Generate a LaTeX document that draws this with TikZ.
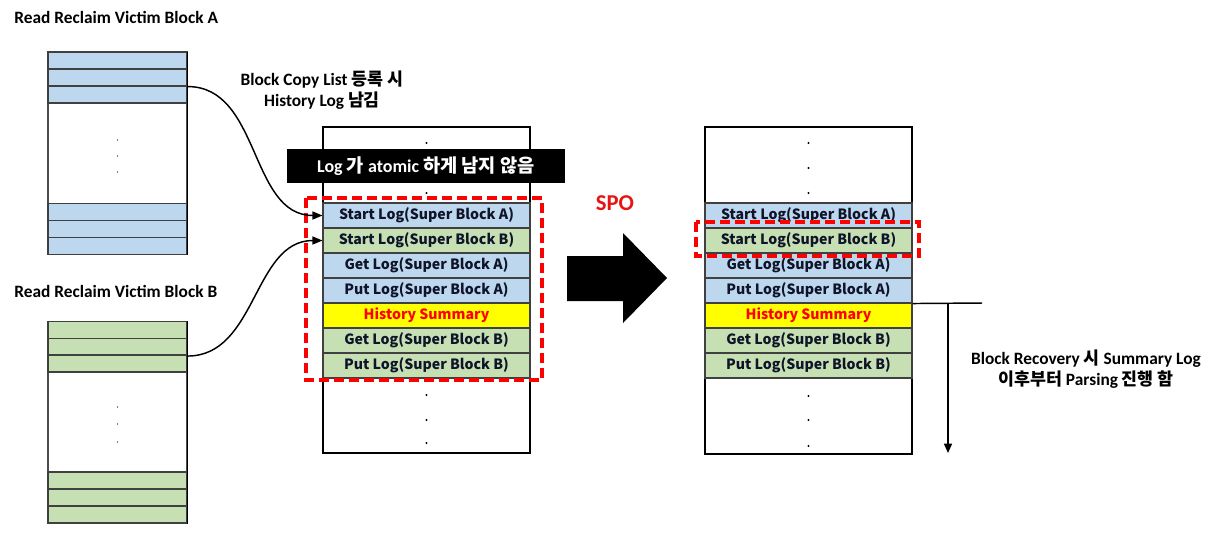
\documentclass[tikz,border=0pt]{standalone}
\usepackage{fontspec}
\setmainfont{Carlito}
\newfontfamily\kr{Noto Sans CJK KR}
\usetikzlibrary{arrows.meta}
\definecolor{cblue}{RGB}{189,215,238}
\definecolor{cgreen}{RGB}{198,224,180}
\definecolor{cyel}{RGB}{255,255,0}
\definecolor{cred}{RGB}{255,0,0}
\definecolor{sred}{RGB}{230,20,20}
\definecolor{ctext}{RGB}{15,20,40}
\begin{document}
\begin{tikzpicture}[x=0.75pt,y=-0.75pt,
  cell/.style={draw=black!75, line width=0.8pt, minimum width=155.25pt, minimum height=18.75pt,
    inner sep=0pt, font=\kr\bfseries\fontsize{10.6}{12}\selectfont, text=ctext},
  colbox/.style={draw=black, line width=1.2pt, minimum width=155.25pt, inner sep=0pt},
  brow/.style={draw=black!75, line width=0.8pt, minimum width=104.25pt, minimum height=12.75pt, inner sep=0pt},
  bbox/.style={draw=black!70, line width=1pt, minimum width=104.25pt, inner sep=0pt},
  lbl/.style={font=\bfseries\fontsize{13}{15.75}\selectfont, align=center, inner sep=0pt},
  conn/.style={line width=1.1pt, -{Triangle[length=7.5pt,width=6pt]}},
  reddash/.style={draw=cred, line width=3pt, dash pattern=on 7.5pt off 3.75pt}
]
\useasboundingbox (0,0) rectangle (1220,537);

% ---------- labels left ----------
\node[lbl, anchor=west] (tA) at (14,17) {Read Reclaim Victim Block A};
\node[lbl, anchor=west] (tB) at (14,291) {Read Reclaim Victim Block B};

% ---------- Block A ----------
\node[bbox, minimum height=151.5pt] (A) at (117.5,153.25) {};
\node[brow, fill=cblue] (a1) at (117.5,60.5) {};
\node[brow, fill=cblue] (a2) at (117.5,77.5) {};
\node[brow, fill=cblue] (a3) at (117.5,94.5) {};
\node[brow, fill=cblue] (a4) at (117.5,212) {};
\node[brow, fill=cblue] (a5) at (117.5,229) {};
\node[brow, fill=cblue] (a6) at (117.5,246) {};
\draw[line width=1.2pt] (A.north east) -- (A.south east);
\fill (117.5,140) circle (0.6);
\fill (117.5,156) circle (0.6);
\fill (117.5,172) circle (0.6);

% ---------- Block B ----------
\node[bbox, minimum height=151.1pt] (B) at (117.5,422.25) {};
\node[brow, fill=cgreen] (b1) at (117.5,330) {};
\node[brow, fill=cgreen] (b2) at (117.5,347) {};
\node[brow, fill=cgreen] (b3) at (117.5,363.5) {};
\node[brow, fill=cgreen] (b4) at (117.5,480.5) {};
\node[brow, fill=cgreen] (b5) at (117.5,497.5) {};
\node[brow, fill=cgreen] (b6) at (117.5,514.5) {};
\draw[line width=1.2pt] (B.north east) -- (B.south east);
\fill (117.5,407) circle (0.6);
\fill (117.5,424) circle (0.6);
\fill (117.5,442) circle (0.6);

% ---------- middle column ----------
\node[colbox, minimum height=244.5pt] (M) at (426.5,290) {};
\node[cell, fill=cblue]  (mA1) at (426.5,215.5) {Start Log(Super Block A)};
\node[cell, fill=cgreen] (mB1) at (426.5,240.5) {Start Log(Super Block B)};
\node[cell, fill=cblue]  (mA2) at (426.5,265.5) {Get Log(Super Block A)};
\node[cell, fill=cblue]  (mA3) at (426.5,290.5) {Put Log(Super Block A)};
\node[cell, fill=cyel, text=cred] (mH) at (426.5,315.5) {History Summary};
\node[cell, fill=cgreen] (mB2) at (426.5,340.5) {Get Log(Super Block B)};
\node[cell, fill=cgreen] (mB3) at (426.5,365.5) {Put Log(Super Block B)};
\fill (426.5,143) circle (1.1);
\fill (426.5,193) circle (1.1);
\fill (426.5,395) circle (1.1);
\fill (426.5,420) circle (1.1);
\fill (426.5,443) circle (1.1);

% black band
\node[fill=black, text=white, minimum width=208.5pt, minimum height=25.5pt, inner sep=0pt,
  font=\bfseries\fontsize{13.5}{15}\selectfont] (band) at (426,166)
  {Log {\kr\fontsize{14}{15}\selectfont 가} atomic {\kr\fontsize{14}{15}\selectfont 하게 남지 않음}};

% red dashed box middle
\draw[reddash] (306,198) rectangle (542,380);

% label
\node[lbl] (tCopy) at (322,90) {Block Copy List {\kr 등록 시}\\History Log {\kr 남김}};

% arrows from blocks
\draw[conn] (a2.south east) to[out=0,in=180] (mA1.west);
\draw[conn] (b2.south east) to[out=0,in=180] (mB1.west);

% ---------- SPO ----------
\node[font=\bfseries\fontsize{17}{20}\selectfont, text=sred, inner sep=0pt] (spo) at (615,203) {SPO};
\fill (567,256) -- (623,256) -- (623,233) -- (667,278) -- (623,323) -- (623,301) -- (567,301) -- cycle;

% ---------- right column ----------
\node[colbox, minimum height=245.25pt] (R) at (808.5,290.5) {};
\node[cell, fill=cblue]  (rA1) at (808.5,215.5) {Start Log(Super Block A)};
\node[cell, fill=cgreen] (rB1) at (808.5,240.5) {Start Log(Super Block B)};
\node[cell, fill=cblue]  (rA2) at (808.5,265.5) {Get Log(Super Block A)};
\node[cell, fill=cblue]  (rA3) at (808.5,290.5) {Put Log(Super Block A)};
\node[cell, fill=cyel, text=cred] (rH) at (808.5,315.5) {History Summary};
\node[cell, fill=cgreen] (rB2) at (808.5,340.5) {Get Log(Super Block B)};
\node[cell, fill=cgreen] (rB3) at (808.5,365.5) {Put Log(Super Block B)};
\fill (808.5,143) circle (1.1);
\fill (808.5,168) circle (1.1);
\fill (808.5,193) circle (1.1);
\fill (808.5,396) circle (1.1);
\fill (808.5,420) circle (1.1);
\fill (808.5,446) circle (1.1);

\draw[reddash] (696,222) rectangle (919,256);

% recovery annotation
\coordinate (hr) at (982,303);
\coordinate (vt) at (948,303);
\coordinate (vb) at (948,453);
\draw[line width=1.1pt] (rA3.south east) -- (hr);
\draw[line width=1.1pt, -{Triangle[length=7pt,width=6pt]}] (vt) -- (vb);
\node[lbl] (tRec) at (1086,369) {Block Recovery {\kr 시} Summary Log\\{\kr 이후부터} Parsing {\kr 진행 함}};
\end{tikzpicture}
\end{document}
